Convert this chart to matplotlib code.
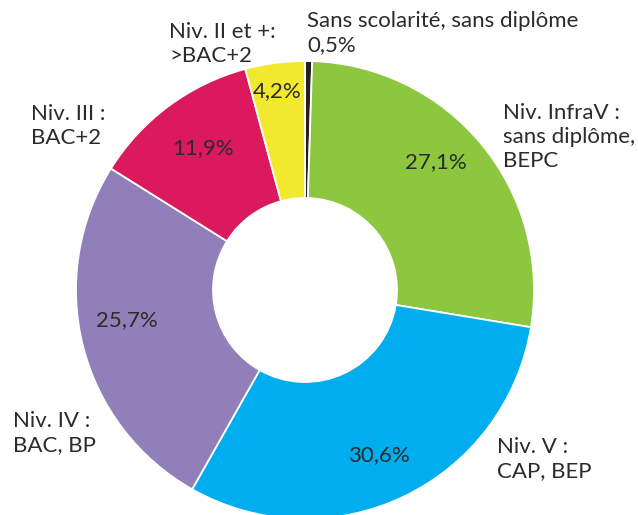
import numpy as np
import matplotlib
matplotlib.use("Agg")
import matplotlib.pyplot as plt

# Répartition par niveau de formation (sens horaire depuis le haut)
categories = ["Sans scolarité, sans diplôme", "Niv. InfraV", "Niv. V", "Niv. IV", "Niv. III", "Niv. II et +"]
values = [0.5, 27.1, 30.6, 25.7, 11.9, 4.2]
colors = ["#231f20", "#8dc63f", "#00aeef", "#917fb9", "#da1a5c", "#f2e92e"]
outer_labels = [
    ["Sans scolarité, sans diplôme", "0,5%"],
    ["Niv. InfraV :", "sans diplôme,", "BEPC"],
    ["Niv. V :", "CAP, BEP"],
    ["Niv. IV :", "BAC, BP"],
    ["Niv. III :", "BAC+2"],
    ["Niv. II et +:", ">BAC+2"],
]

W, H = 638, 515
plt.rcParams["font.family"] = ["Lato", "DejaVu Sans"]
text_color = "#2b2b2b"
FS = 16

fig = plt.figure(figsize=(W / 100, H / 100), dpi=100)
ax = fig.add_axes([0, 0, 1, 1])

cx, cy, R, r_in = 305, H - 290, 229, 92
wedges, _ = ax.pie(
    values, colors=colors, startangle=90, counterclock=False,
    center=(cx, cy), radius=R, frame=True,
    wedgeprops=dict(width=R - r_in, edgecolor="white", linewidth=1.3),
)
ax.set_xlim(0, W)
ax.set_ylim(0, H)
ax.set_aspect("equal")
ax.axis("off")

# Pourcentages dans l'anneau (centre du texte, en pixels depuis le haut)
pct_pos = [None, (436, 162), (379, 455), (127, 320), (203, 148), (277, 91)]
for v, pos in zip(values, pct_pos):
    if pos is None:
        continue
    ax.text(pos[0], H - pos[1], f"{v:.1f}%".replace(".", ","), ha="center",
            va="center", fontsize=FS, color=text_color)

# Libellés extérieurs : abscisse et ligne de base de la première ligne
label_pos = [(307, 27), (503, 119), (497, 453), (13, 427), (31, 120), (169, 38)]
line_step = 24
for lines, (x, y) in zip(outer_labels, label_pos):
    for i, line in enumerate(lines):
        ax.text(x, H - (y + i * line_step), line, ha="left", va="baseline",
                fontsize=FS, color=text_color)

fig.savefig("out.png", dpi=100)
